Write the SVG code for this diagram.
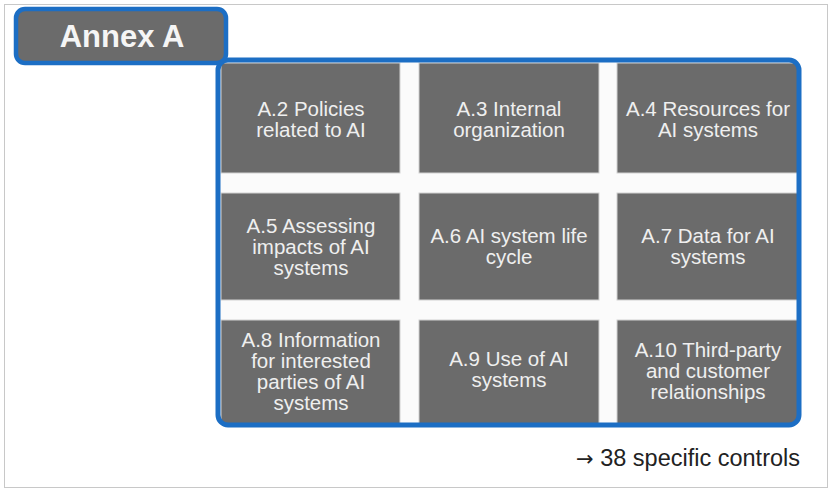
<svg xmlns="http://www.w3.org/2000/svg" width="832" height="492" viewBox="0 0 832 492">
<defs>
<style>
.cell{fill:#6b6b6b;stroke:#d2d2d2;stroke-width:1}
.ct{font-family:"Liberation Sans",Arial,sans-serif;font-size:20.5px;fill:#efefef;text-anchor:middle}
.blue{fill:none;stroke:#1c6ec4;stroke-width:5}
</style>
<clipPath id="pc"><rect x="218" y="60" width="581" height="365" rx="10"/></clipPath>
</defs>
<rect x="0" y="0" width="832" height="492" fill="#ffffff"/>
<rect x="4.5" y="4.5" width="823" height="483" fill="#ffffff" stroke="#c8c8c8" stroke-width="1"/>
<g id="panel">
<rect x="218" y="60" width="581" height="365" rx="10" fill="#fbfbfb"/>
<g clip-path="url(#pc)">
<g id="a2"><rect class="cell" x="221" y="63" width="179" height="110"/><text class="ct" x="311" y="116">A.2 Policies<tspan x="311" dy="21">related to AI</tspan></text></g>
<g id="a3"><rect class="cell" x="419" y="63" width="180" height="110"/><text class="ct" x="509" y="116">A.3 Internal<tspan x="509" dy="21">organization</tspan></text></g>
<g id="a4"><rect class="cell" x="617" y="63" width="181" height="110"/><text class="ct" x="708" y="116">A.4 Resources for<tspan x="708" dy="21">AI systems</tspan></text></g>
<g id="a5"><rect class="cell" x="221" y="193" width="179" height="107"/><text class="ct" x="311" y="233">A.5 Assessing<tspan x="311" dy="21">impacts of AI</tspan><tspan x="311" dy="21">systems</tspan></text></g>
<g id="a6"><rect class="cell" x="419" y="193" width="180" height="107"/><text class="ct" x="509" y="243">A.6 AI system life<tspan x="509" dy="21">cycle</tspan></text></g>
<g id="a7"><rect class="cell" x="617" y="193" width="181" height="107"/><text class="ct" x="708" y="243">A.7 Data for AI<tspan x="708" dy="21">systems</tspan></text></g>
<g id="a8"><rect class="cell" x="221" y="320" width="179" height="104"/><text class="ct" x="311" y="347">A.8 Information<tspan x="311" dy="21">for interested</tspan><tspan x="311" dy="21">parties of AI</tspan><tspan x="311" dy="21">systems</tspan></text></g>
<g id="a9"><rect class="cell" x="419" y="320" width="180" height="104"/><text class="ct" x="509" y="366">A.9 Use of AI<tspan x="509" dy="21">systems</tspan></text></g>
<g id="a10"><rect class="cell" x="617" y="320" width="181" height="104"/><text class="ct" x="708" y="357">A.10 Third-party<tspan x="708" dy="21">and customer</tspan><tspan x="708" dy="21">relationships</tspan></text></g>
</g>
<rect class="blue" x="218" y="60" width="581" height="365" rx="10"/>
</g>
<g id="tab">
<rect x="16" y="9" width="210" height="54" rx="9" fill="#6b6b6b" stroke="#1c6ec4" stroke-width="4.5"/>
<text x="122" y="47" font-family="'Liberation Sans',Arial,sans-serif" font-size="31" font-weight="bold" fill="#f5f5f5" text-anchor="middle">Annex A</text>
</g>
<g id="connectors"></g>
<text x="800" y="466" font-family="'Liberation Sans',Arial,sans-serif" font-size="23.5" fill="#222222" text-anchor="end"><tspan font-family="'DejaVu Sans',sans-serif" font-size="21">→</tspan> 38 specific controls</text>
</svg>
